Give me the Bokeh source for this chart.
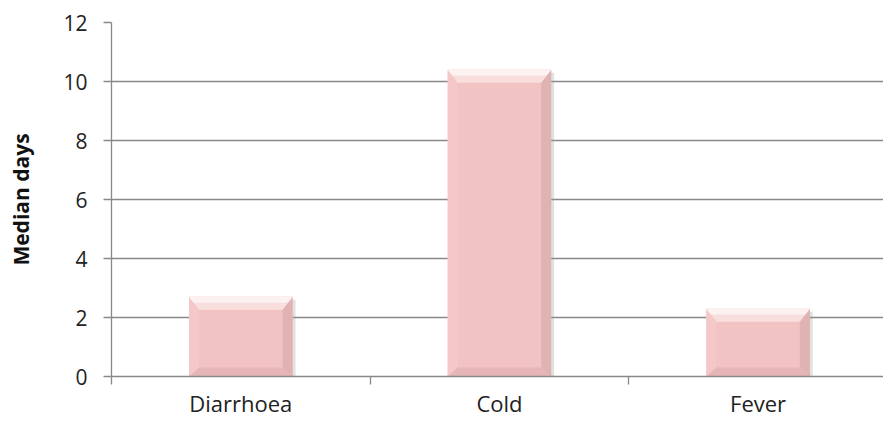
from bokeh.plotting import figure
from bokeh.models import Range1d, FixedTicker
from bokeh.embed import file_html
from bokeh.resources import INLINE

# Median number of days with each symptom
categories = ["Diarrhoea", "Cold", "Fever"]
median_days = [2.7, 10.4, 2.3]
y_ticks = [0, 2, 4, 6, 8, 10, 12]

FONT = "Open Sans"
GRID = "#888888"

W, H = 883, 429
LEFT, RIGHT, TOP, BOTTOM = 111, 0, 22, 53
X_END = 2.985
Y_END = 12

p = figure(width=W, height=H, output_backend="svg", toolbar_location=None,
           x_range=Range1d(0, X_END), y_range=Range1d(0, Y_END),
           min_border_left=LEFT, min_border_right=RIGHT,
           min_border_top=TOP, min_border_bottom=BOTTOM)
p.outline_line_color = None
p.background_fill_color = "white"
p.border_fill_color = "white"

# pixel -> data conversion for the bevel decoration
frame_w = W - LEFT - RIGHT
frame_h = H - TOP - BOTTOM
ux = X_END / frame_w
uy = Y_END / frame_h

bar_w = 0.4
centers = [i + 0.5 for i in range(len(categories))]
bev_x = 10 * ux
bev_top = 13 * uy
bev_bot = 9 * uy
sh_x = 3 * ux
sh_y = 3 * uy

# soft drop shadow
p.quad(left=[c - bar_w / 2 + sh_x for c in centers],
       right=[c + bar_w / 2 + sh_x for c in centers],
       top=[v - sh_y for v in median_days],
       bottom=[-sh_y] * len(centers),
       fill_color="#9a9a9a", fill_alpha=0.3, line_color=None)

# bar face
p.quad(left=[c - bar_w / 2 for c in centers],
       right=[c + bar_w / 2 for c in centers],
       top=median_days, bottom=[0] * len(centers),
       fill_color="#F2C3C3", line_color=None)

# bevel facets
tops, lefts, rights, bots = [], [], [], []
for c, v in zip(centers, median_days):
    l, r = c - bar_w / 2, c + bar_w / 2
    tops.append(([l, r, r - bev_x, l + bev_x], [v, v, v - bev_top, v - bev_top]))
    lefts.append(([l, l + bev_x, l + bev_x, l], [v, v - bev_top, bev_bot, 0]))
    rights.append(([r, r - bev_x, r - bev_x, r], [v, v - bev_top, bev_bot, 0]))
    bots.append(([l, l + bev_x, r - bev_x, r], [0, bev_bot, bev_bot, 0]))

for facets, color in [(lefts, "#F4C8C8"), (rights, "#E0B2B2"),
                      (bots, "#E6B6B6"), (tops, "#F9DEDE")]:
    p.patches(xs=[f[0] for f in facets], ys=[f[1] for f in facets],
              fill_color=color, line_color=None)

# brighter highlight along the top edge
p.patches(xs=[[c - bar_w / 2, c + bar_w / 2,
               c + bar_w / 2 - bev_x * 0.45, c - bar_w / 2 + bev_x * 0.45]
              for c in centers],
          ys=[[v, v, v - bev_top * 0.45, v - bev_top * 0.45] for v in median_days],
          fill_color="#FDF2F2", line_color=None)

# y axis
p.yaxis.ticker = FixedTicker(ticks=y_ticks)
p.yaxis.axis_line_color = GRID
p.yaxis.axis_line_width = 1.3
p.yaxis.major_tick_line_color = GRID
p.yaxis.major_tick_line_width = 1.3
p.yaxis.major_tick_out = 8
p.yaxis.major_tick_in = 0
p.yaxis.minor_tick_line_color = None
p.yaxis.major_label_standoff = 16
p.yaxis.major_label_text_font = FONT
p.yaxis.major_label_text_font_size = "21px"
p.yaxis.major_label_text_color = "#222222"
p.yaxis.axis_label = "Median days"
p.yaxis.axis_label_text_font = FONT
p.yaxis.axis_label_text_font_size = "21px"
p.yaxis.axis_label_text_font_style = "bold"
p.yaxis.axis_label_text_color = "#111111"
p.yaxis.axis_label_standoff = 25

# x axis: labels at category centres, tick marks between categories
p.xaxis.ticker = FixedTicker(ticks=centers, minor_ticks=list(range(len(categories) + 1)))
p.xaxis.major_label_overrides = {c: name for c, name in zip(centers, categories)}
p.xaxis.axis_line_color = GRID
p.xaxis.axis_line_width = 1.3
p.xaxis.major_tick_line_color = None
p.xaxis.minor_tick_line_color = GRID
p.xaxis.minor_tick_line_width = 1.3
p.xaxis.minor_tick_out = 8
p.xaxis.minor_tick_in = 0
p.xaxis.major_label_standoff = 3
p.xaxis.major_label_text_font = FONT
p.xaxis.major_label_text_font_size = "22px"
p.xaxis.major_label_text_color = "#222222"

p.xgrid.grid_line_color = None
p.ygrid.ticker = FixedTicker(ticks=y_ticks)
p.ygrid.grid_line_color = GRID
p.ygrid.grid_line_width = 1.3
p.ygrid.level = "underlay"

open("out.html", "w").write(file_html(p, INLINE))
